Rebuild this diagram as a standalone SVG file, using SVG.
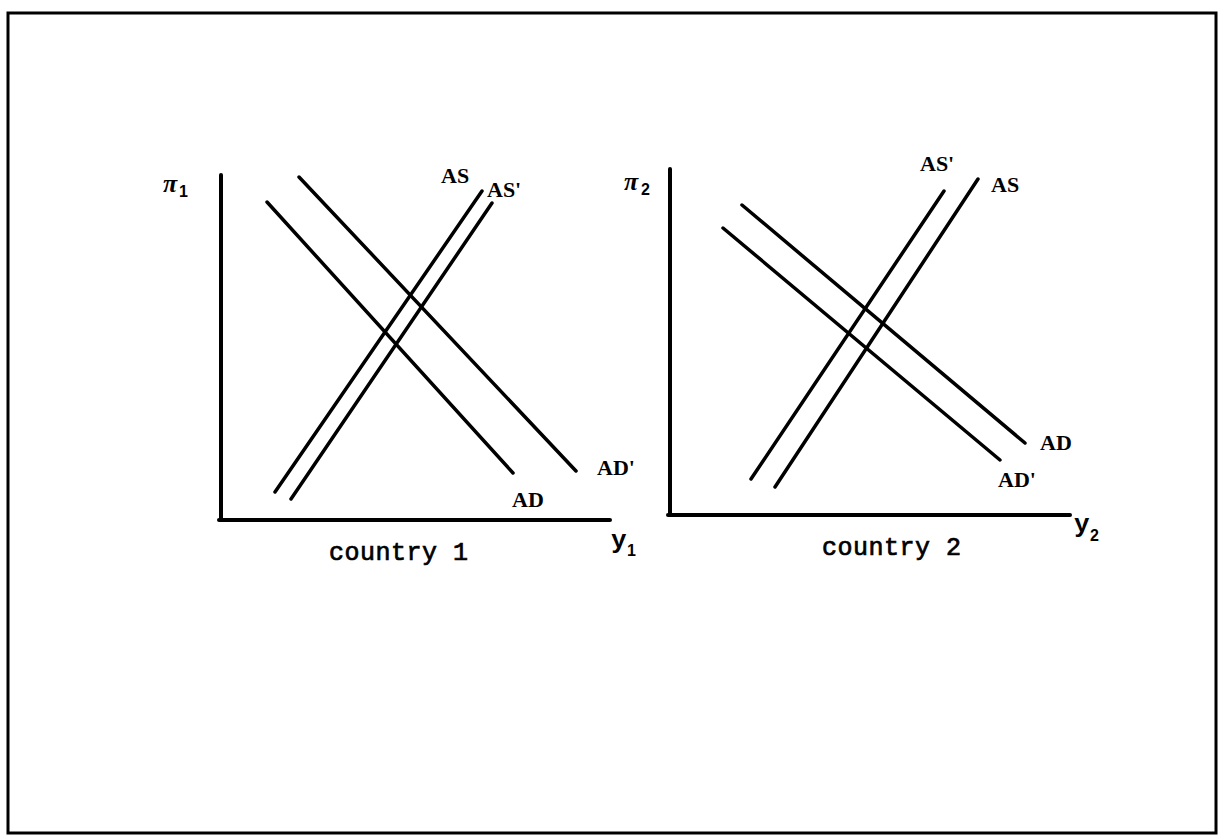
<svg xmlns="http://www.w3.org/2000/svg" width="1220" height="836" viewBox="0 0 1220 836">
<style>
.axis{stroke:#000;stroke-width:4;fill:none;stroke-linecap:round}
.curve{stroke:#000;stroke-width:3.5;fill:none;stroke-linecap:round}
.lbl{font-family:"Liberation Serif",serif;font-weight:bold;font-size:22px;fill:#000}
.sym{font-family:"Liberation Serif",serif;font-weight:bold;font-style:italic;font-size:26px;fill:#000}
.ylab{font-family:"Liberation Mono",monospace;font-weight:bold;font-size:26px;fill:#000}
.sub{font-family:"Liberation Sans",sans-serif;font-weight:bold;font-size:16px;fill:#000}
.cap{font-family:"Liberation Mono",monospace;font-size:25px;fill:#000;stroke:#000;stroke-width:0.7;letter-spacing:0.5px}
</style>
<rect x="0" y="0" width="1220" height="836" fill="#fff"/>
<rect x="8" y="13" width="1208" height="820" fill="none" stroke="#000" stroke-width="3"/>
<g id="graph1">
  <g id="axes1">
    <line class="axis" x1="221" y1="175" x2="221" y2="520"/>
    <line class="axis" x1="219" y1="520" x2="610" y2="520"/>
    <text class="sym" x="163" y="192">π</text><text class="sub" x="179" y="197">1</text>
    <text class="ylab" x="611" y="548">y</text><text class="sub" x="627" y="556">1</text>
    <text class="cap" x="329" y="560">country 1</text>
  </g>
  <g id="connectors1">
    <line class="curve" x1="267" y1="202" x2="513" y2="473"/>
    <line class="curve" x1="299" y1="177" x2="576" y2="471"/>
    <line class="curve" x1="482" y1="191" x2="275" y2="492"/>
    <line class="curve" x1="492" y1="203" x2="291" y2="499"/>
  </g>
  <g id="labels1">
    <text class="lbl" x="441" y="183">AS</text>
    <text class="lbl" x="487" y="197">AS'</text>
    <text class="lbl" x="597" y="475">AD'</text>
    <text class="lbl" x="512" y="507">AD</text>
  </g>
</g>
<g id="graph2">
  <g id="axes2">
    <line class="axis" x1="670" y1="169" x2="670" y2="515"/>
    <line class="axis" x1="668" y1="515" x2="1070" y2="515"/>
    <text class="sym" x="624" y="190">π</text><text class="sub" x="641" y="195">2</text>
    <text class="ylab" x="1074" y="532">y</text><text class="sub" x="1090" y="541">2</text>
    <text class="cap" x="822" y="555">country 2</text>
  </g>
  <g id="connectors2">
    <line class="curve" x1="723" y1="228" x2="1000" y2="460"/>
    <line class="curve" x1="742" y1="205" x2="1025" y2="443"/>
    <line class="curve" x1="944" y1="191" x2="751" y2="479"/>
    <line class="curve" x1="978" y1="179" x2="775" y2="487"/>
  </g>
  <g id="labels2">
    <text class="lbl" x="920" y="171">AS'</text>
    <text class="lbl" x="991" y="192">AS</text>
    <text class="lbl" x="1040" y="450">AD</text>
    <text class="lbl" x="998" y="487">AD'</text>
  </g>
</g>
</svg>
